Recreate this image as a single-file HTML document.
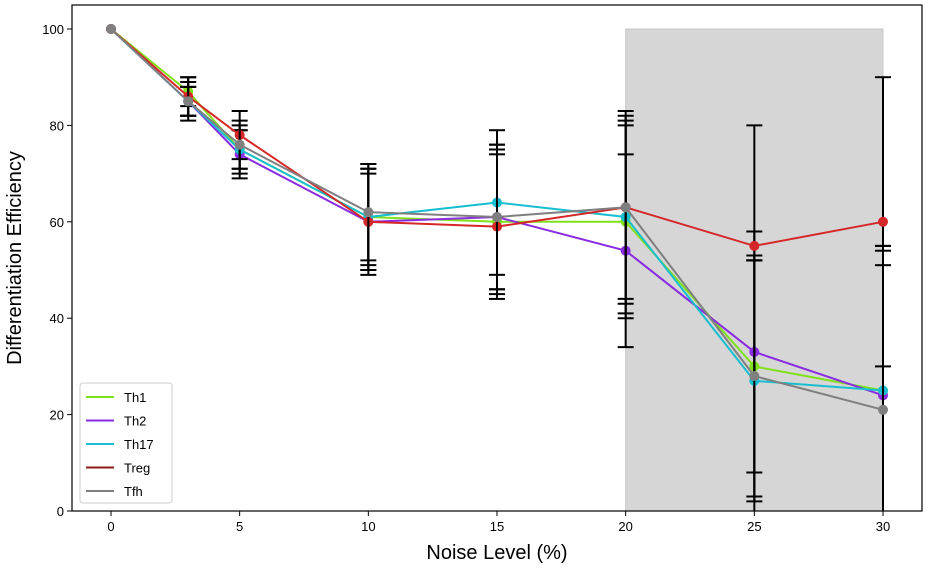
<!DOCTYPE html>
<html><head><meta charset="utf-8"><style>
body{margin:0;background:#fff;font-family:"Liberation Sans",sans-serif;}
svg text{font-family:"Liberation Sans",sans-serif;}
</style></head><body>
<svg id="chart" width="928" height="566" xmlns="http://www.w3.org/2000/svg"></svg>
<script>
const xValues=[0,3,5,10,15,20,25,30];
const seriesNames=["Th1","Th2","Th17","Treg","Tfh"];
const seriesColors=["#80e01a","#8a2be2","#17becf","#d62728","#7f7f7f"];
const th1=[100,87,75,61,60,60,30,25];
const th2=[100,85,74,60,61,54,33,24];
const th17=[100,85,75,61,64,61,27,25];
const treg=[100,86,78,60,59,63,55,60];
const tfh=[100,85,76,62,61,63,28,21];
const th1Err=[0,3,5,10,15,20,22,30];
const th2Err=[0,3,5,10,15,20,47,30];
const th17Err=[0,4,4,11,15,20,25,30];
const tregErr=[0,4,5,11,15,20,3,30];
const tfhErr=[0,3,5,10,15,19,25,30];
const xTicks=[0,5,10,15,20,25,30];
const yTicks=[0,20,40,60,80,100];
const shadeRange=[20,30];

const L=72,R=922,T=5,B=511;
const X=v=>111+v*(883-111)/30;
const Y=v=>511-v*(511-29)/100;
const svg=document.getElementById('chart');
const NS='http://www.w3.org/2000/svg';
function mk(tag,attrs,parent){const e=document.createElementNS(NS,tag);for(const k in attrs)e.setAttribute(k,attrs[k]);(parent||svg).appendChild(e);return e;}

const clip=mk('clipPath',{id:'pc'});mk('rect',{x:L,y:T,width:R-L,height:B-T},clip);

const shade=mk('rect',{x:X(shadeRange[0]),y:Y(100),width:X(shadeRange[1])-X(shadeRange[0]),height:Y(0)-Y(100),fill:'#d6d6d6',stroke:'#c8c8c8','stroke-width':1});



const data=[th1,th2,th17,treg,tfh];
const errs=[th1Err,th2Err,th17Err,tregErr,tfhErr];
const plot=mk('g',{'clip-path':'url(#pc)'});
data.forEach((vals,si)=>{
  const g=mk('g',{},plot);
  
  
  vals.forEach((v,i)=>{
    const e=errs[si][i];if(!e)return;
    const x=X(xValues[i]);
    const eb=mk('g',{stroke:'#000','stroke-width':2},g);
    
    
    mk('line',{x1:x,x2:x,y1:Y(v-e),y2:Y(v+e)},eb);
    mk('line',{x1:x-8,x2:x+8,y1:Y(v-e),y2:Y(v-e)},eb);
    mk('line',{x1:x-8,x2:x+8,y1:Y(v+e),y2:Y(v+e)},eb);
  });
  const pts=vals.map((v,i)=>X(xValues[i])+','+Y(v)).join(' ');
  const pl=mk('polyline',{points:pts,fill:'none',stroke:seriesColors[si],'stroke-width':2},g);
  
  
  vals.forEach((v,i)=>{
    const c=mk('circle',{cx:X(xValues[i]),cy:Y(v),r:5,fill:seriesColors[si]},g);
    
    
  });
});

const frame=mk('rect',{x:L,y:T,width:R-L,height:B-T,fill:'none',stroke:'#000','stroke-width':1.2});



xTicks.forEach(t=>{
  mk('line',{x1:X(t),x2:X(t),y1:B,y2:B+5,stroke:'#000'});
  const tx=mk('text',{x:X(t),y:B+20,'text-anchor':'middle','font-size':13});
  tx.textContent=t;
  
  
});
yTicks.forEach(t=>{
  mk('line',{x1:L-5,x2:L,y1:Y(t),y2:Y(t),stroke:'#000'});
  const tx=mk('text',{x:L-8,y:Y(t)+5,'text-anchor':'end','font-size':13});
  tx.textContent=t;
  
  
});
const xt=mk('text',{x:497,y:559,'text-anchor':'middle','font-size':20});
xt.textContent='Noise Level (%)';


const yt=mk('text',{x:21,y:258,'text-anchor':'middle','font-size':20,transform:'rotate(-90 21 258)'});
yt.textContent='Differentiation Efficiency';



const lg=mk('g',{});


mk('rect',{x:80,y:383,width:92,height:120,rx:3,fill:'#fff',stroke:'#ccc'},lg);
seriesNames.forEach((n,i)=>{
  const y=397+i*23.5;
  const e=mk('g',{},lg);
  
  
  mk('line',{x1:86,x2:114,y1:y,y2:y,stroke:i==3?'#8b1a1a':seriesColors[i],'stroke-width':2},e);
  const t=mk('text',{x:124,y:y+5,'font-size':13},e);
  t.textContent=n;
});
</script>
</body></html>
